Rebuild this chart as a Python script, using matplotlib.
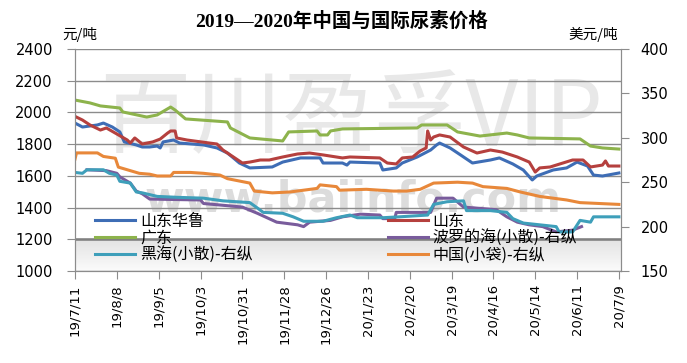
import numpy as np
import pandas as pd
import matplotlib
matplotlib.use('Agg')
import matplotlib.pyplot as plt
import matplotlib.dates as mdates
from matplotlib.colors import LinearSegmentedColormap

plt.rcParams['font.family'] = ['DejaVu Sans', 'Noto Sans CJK SC']
cjk = ['Noto Sans CJK SC', 'DejaVu Sans']

start = pd.Timestamp('2019-07-11')

# days counted from 2019-07-11, prices
# left axis, yuan/ton
hualu_day = [0, 5, 15, 19, 25, 30, 33, 41, 45, 50, 55, 57, 59, 66, 70, 86, 95, 102, 106, 110,
             117, 132, 139, 151, 164, 166, 179, 182, 184, 204, 206, 215, 219, 229, 238, 242, 244,
             251, 258, 266, 278, 284, 293, 300, 306, 309, 320, 329, 336, 343, 347, 353, 364]
hualu_val = [1933, 1908, 1921, 1933, 1908, 1877, 1814, 1795, 1782, 1782, 1788, 1776, 1814, 1826,
             1807, 1795, 1776, 1744, 1713, 1681, 1650, 1656, 1687, 1713, 1713, 1681, 1681, 1668,
             1687, 1681, 1637, 1650, 1681, 1719, 1763, 1795, 1807, 1776, 1732, 1681, 1700, 1713,
             1675, 1637, 1574, 1599, 1637, 1650, 1687, 1662, 1605, 1599, 1618]

shandong_day = [0, 5, 10, 17, 21, 28, 35, 37, 40, 45, 52, 57, 62, 64, 67, 68, 75, 90, 95, 99,
                106, 112, 117, 124, 130, 139, 149, 157, 166, 179, 184, 204, 209, 215, 219, 226,
                231, 235, 236, 238, 240, 244, 251, 260, 269, 278, 286, 296, 304, 308, 311, 318,
                333, 340, 345, 353, 355, 357, 364]
shandong_val = [1975, 1952, 1921, 1889, 1902, 1864, 1826, 1807, 1839, 1801, 1814, 1832, 1870,
                1883, 1883, 1839, 1826, 1807, 1801, 1763, 1719, 1681, 1687, 1700, 1700, 1719,
                1738, 1744, 1732, 1713, 1719, 1713, 1681, 1675, 1713, 1719, 1757, 1776, 1883,
                1826, 1845, 1858, 1845, 1782, 1744, 1763, 1750, 1719, 1687, 1624, 1650, 1656,
                1700, 1700, 1656, 1668, 1694, 1662, 1662]

guangdong_day = [0, 10, 17, 30, 32, 48, 55, 64, 67, 74, 102, 104, 117, 139, 143, 162, 164, 169,
                 171, 179, 229, 232, 249, 256, 271, 289, 296, 304, 338, 345, 353, 364]
guangdong_val = [2078, 2060, 2041, 2028, 2003, 1971, 1984, 2034, 2015, 1959, 1940, 1902, 1839,
                 1820, 1877, 1883, 1858, 1858, 1883, 1896, 1902, 1921, 1921, 1877, 1851, 1870,
                 1858, 1839, 1833, 1788, 1776, 1769]

# right axis, USD/ton
baltic_day = [8, 21, 28, 30, 37, 41, 45, 50, 84, 86, 112, 122, 135, 149, 153, 157, 171, 179, 191,
              204, 206, 214, 215, 238, 242, 253, 260, 282, 289, 296, 304, 313, 322, 333, 339]
baltic_val = [264, 263, 260, 256, 249, 240, 237, 231, 230, 226, 222, 215, 205, 202, 200, 205, 207,
              211, 214, 213, 209, 209, 216, 216, 232, 232, 222, 219, 211, 205, 202, 200, 194, 196, 200]

blacksea_day = [0, 5, 8, 19, 23, 28, 30, 37, 41, 45, 55, 68, 86, 99, 117, 122, 126, 139, 146, 153,
                166, 175, 184, 189, 206, 217, 236, 240, 249, 260, 262, 278, 289, 293, 300, 311,
                322, 324, 333, 338, 345, 347, 364]
blacksea_val = [261, 260, 264, 264, 260, 258, 251, 249, 239, 238, 234, 233, 232, 229, 227, 221,
                216, 215, 211, 206, 206, 210, 213, 210, 210, 211, 213, 225, 228, 229, 218, 218,
                216, 209, 204, 202, 200, 194, 194, 207, 205, 211, 211]

china_day = [0, 1, 15, 19, 27, 29, 37, 43, 50, 55, 64, 66, 77, 86, 97, 102, 117, 120, 132, 144,
             153, 162, 164, 175, 177, 195, 213, 222, 231, 240, 256, 266, 273, 289, 298, 311, 320,
             329, 338, 364]
china_val = [276, 283, 283, 279, 277, 267, 263, 260, 259, 257, 257, 261, 261, 260, 258, 254, 249,
             240, 238, 239, 241, 243, 247, 245, 241, 242, 240, 240, 242, 249, 250, 249, 245, 243,
             239, 234, 232, 230, 227, 225]

tick_dates = pd.date_range('2019-07-11', '2020-07-09', freq='28D')
tick_labels = [f"{d.year % 100}/{d.month}/{d.day}" for d in tick_dates]


def to_dates(days):
    return start + pd.to_timedelta(days, unit='D')


fig = plt.figure(figsize=(6.87, 3.63), dpi=100)
ax = fig.add_axes([75 / 687, 1 - 271 / 363, 546 / 687, 222 / 363])
ax2 = ax.twinx()

x0 = mdates.date2num(start)
x1 = mdates.date2num(start + pd.Timedelta(days=365.4))

# light grey band at the bottom
cmap = LinearSegmentedColormap.from_list('band', ['#e3e3e3', '#fbfbfb'])
ax.imshow(np.linspace(0, 1, 60).reshape(-1, 1), extent=[x0, x1, 1000, 1200],
          aspect='auto', cmap=cmap, zorder=0.2)

# watermark
ax.text(0.505, 0.68, '百川盈孚VIP', transform=ax.transAxes, ha='center', va='center',
        fontsize=66, color='#e8e8e8', family=cjk, zorder=0.3)
ax.text(0.51, 0.32, 'www.baiinfo.com', transform=ax.transAxes, ha='center', va='center',
        fontsize=31, color='#dcdcdc', fontweight='bold', zorder=0.3)

lw = 2.2
l1, = ax.plot(to_dates(hualu_day), hualu_val, color='#3E6DB5', lw=lw, label='山东华鲁', zorder=3)
l2, = ax.plot(to_dates(shandong_day), shandong_val, color='#B5403E', lw=lw, label='山东', zorder=3)
l3, = ax.plot(to_dates(guangdong_day), guangdong_val, color='#8DB34C', lw=lw, label='广东', zorder=3)
l4, = ax2.plot(to_dates(baltic_day), baltic_val, color='#795C9C', lw=lw, label='波罗的海(小散)-右纵')
l5, = ax2.plot(to_dates(blacksea_day), blacksea_val, color='#3E9FBA', lw=lw, label='黑海(小散)-右纵')
l6, = ax2.plot(to_dates(china_day), china_val, color='#E8883A', lw=lw, label='中国(小袋)-右纵')

ax.set_xlim(x0, x1)
ax.set_ylim(1000, 2400)
ax2.set_ylim(150, 400)
ax.set_yticks(range(1000, 2401, 200))
ax2.set_yticks(range(150, 401, 50))
ax.yaxis.grid(True, color='#8c8c8c', lw=1)
ax.set_axisbelow(True)
ax.axhline(1200, color='#808080', lw=1.8, zorder=1)

ax.set_xticks(tick_dates)
ax.set_xticklabels(tick_labels, rotation=90, ha='center', va='top', fontsize=9.5)

for a in (ax, ax2):
    a.spines['top'].set_visible(False)
    for s in ('left', 'right', 'bottom'):
        a.spines[s].set_color('#8c8c8c')
ax.tick_params(axis='x', length=6, color='#8c8c8c', pad=3.5)
ax.tick_params(axis='y', length=6, color='#8c8c8c', labelsize=10.5, pad=10)
ax2.tick_params(axis='y', length=6, color='#8c8c8c', labelsize=10.5, pad=8)

leg_kw = dict(loc='upper left', frameon=False, handlelength=2.5,
              handletextpad=0.3, labelspacing=0.0, borderpad=0, borderaxespad=0,
              prop={'family': cjk, 'size': 11.5})
leg1 = ax2.legend(handles=[l1, l3, l5], bbox_to_anchor=(0.037, 0.262), **leg_kw)
ax2.add_artist(leg1)
ax2.legend(handles=[l2, l4, l6], bbox_to_anchor=(0.573, 0.262), **leg_kw)

fig.text(342 / 687, 1 - 21 / 363, '2019—2020年中国与国际尿素价格', ha='center', va='center',
         fontsize=14, fontweight='bold', family=['Liberation Serif', 'Noto Sans CJK SC'])
fig.text(62 / 687, 1 - 34 / 363, '元/吨', ha='left', va='center', fontsize=10.5, family=cjk)
fig.text(568 / 687, 1 - 34 / 363, '美元/吨', ha='left', va='center', fontsize=10.5, family=cjk)

fig.savefig('out.png', dpi=100)
